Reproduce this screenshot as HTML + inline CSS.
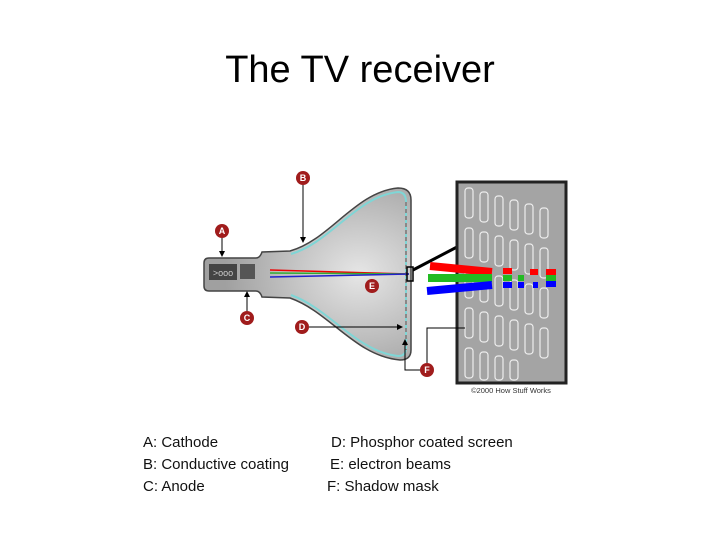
<!DOCTYPE html>
<html><head><meta charset="utf-8"><style>
body{margin:0;background:#fff;width:720px;height:540px;overflow:hidden;font-family:"Liberation Sans",sans-serif}
</style></head><body>
<svg width="720" height="540" xmlns="http://www.w3.org/2000/svg">
<defs>
<radialGradient id="g" cx="0.75" cy="0.5" r="0.65">
<stop offset="0" stop-color="#e6e6e6"/><stop offset="1" stop-color="#a0a0a0"/>
</radialGradient>
<marker id="ar" markerWidth="6" markerHeight="6" refX="5" refY="3" orient="auto"><path d="M0,0 L6,3 L0,6Z" fill="#000"/></marker>
</defs>
<text x="360" y="82" font-size="38" text-anchor="middle" fill="#000" font-family="Liberation Sans,sans-serif">The TV receiver</text>
<!-- tube -->
<path d="M209,258 L256,258 Q260,258 262,252 L290,251 C330,240 355,192 398,188 Q411,188 411,200 L411,350 Q411,360 400,360 C355,356 330,312 290,298 L262,297 Q260,291 256,291 L209,291 Q204,291 204,286 L204,263 Q204,258 209,258Z" fill="url(#g)" stroke="#444" stroke-width="1.5"/>
<path d="M291,254 C330,243 357,196 398,192 Q406,192 406,202 L406,348 Q406,356 398,356 C357,352 330,309 291,295" fill="none" stroke="#7fd6d6" stroke-width="2"/>
<path d="M406,202 L406,350" stroke="#888" stroke-width="2" stroke-dasharray="4,3"/>
<rect x="209" y="264" width="28" height="16" fill="#444"/>
<text x="223" y="276" font-size="9" fill="#ccc" text-anchor="middle">&gt;ooo</text>
<rect x="240" y="264" width="15" height="15" fill="#555"/>
<!-- beams -->
<line x1="270" y1="270" x2="409" y2="274" stroke="#e00" stroke-width="1.5"/>
<line x1="270" y1="273" x2="409" y2="274" stroke="#3a3" stroke-width="1.5"/>
<line x1="270" y1="277" x2="409" y2="274" stroke="#22c" stroke-width="1.5"/>
<rect x="407" y="267" width="6" height="14" fill="none" stroke="#000" stroke-width="1.5"/>
<line x1="413" y1="270" x2="457" y2="247" stroke="#000" stroke-width="3"/>
<!-- panel -->
<rect x="457" y="182" width="109" height="201" fill="#a4a4a4" stroke="#222" stroke-width="3"/>
<g fill="none" stroke="#eee" stroke-width="1.2">
<rect x="465" y="188" width="8" height="30" rx="3"/><rect x="480" y="192" width="8" height="30" rx="3"/><rect x="495" y="196" width="8" height="30" rx="3"/><rect x="510" y="200" width="8" height="30" rx="3"/><rect x="525" y="204" width="8" height="30" rx="3"/><rect x="540" y="208" width="8" height="30" rx="3"/>
<rect x="465" y="228" width="8" height="30" rx="3"/><rect x="480" y="232" width="8" height="30" rx="3"/><rect x="495" y="236" width="8" height="30" rx="3"/><rect x="510" y="240" width="8" height="30" rx="3"/><rect x="525" y="244" width="8" height="30" rx="3"/><rect x="540" y="248" width="8" height="30" rx="3"/>
<rect x="465" y="268" width="8" height="30" rx="3"/><rect x="480" y="272" width="8" height="30" rx="3"/><rect x="495" y="276" width="8" height="30" rx="3"/><rect x="510" y="280" width="8" height="30" rx="3"/><rect x="525" y="284" width="8" height="30" rx="3"/><rect x="540" y="288" width="8" height="30" rx="3"/>
<rect x="465" y="308" width="8" height="30" rx="3"/><rect x="480" y="312" width="8" height="30" rx="3"/><rect x="495" y="316" width="8" height="30" rx="3"/><rect x="510" y="320" width="8" height="30" rx="3"/><rect x="525" y="324" width="8" height="30" rx="3"/><rect x="540" y="328" width="8" height="30" rx="3"/>
<rect x="465" y="348" width="8" height="30" rx="3"/><rect x="480" y="352" width="8" height="28" rx="3"/><rect x="495" y="356" width="8" height="24" rx="3"/><rect x="510" y="360" width="8" height="20" rx="3"/>
</g>
<line x1="430" y1="266" x2="492" y2="272" stroke="#f00" stroke-width="8"/>
<line x1="428" y1="278" x2="492" y2="278" stroke="#2b2" stroke-width="8"/>
<line x1="427" y1="291" x2="492" y2="285" stroke="#00f" stroke-width="8"/>
<g stroke-width="6"><line x1="503" y1="271" x2="512" y2="271" stroke="#f00"/><line x1="530" y1="272" x2="538" y2="272" stroke="#f00"/><line x1="546" y1="272" x2="556" y2="272" stroke="#f00"/>
<line x1="503" y1="278" x2="512" y2="278" stroke="#2b2"/><line x1="518" y1="278" x2="524" y2="278" stroke="#2b2"/><line x1="546" y1="278" x2="556" y2="278" stroke="#2b2"/>
<line x1="503" y1="285" x2="512" y2="285" stroke="#00f"/><line x1="518" y1="285" x2="524" y2="285" stroke="#00f"/><line x1="533" y1="285" x2="538" y2="285" stroke="#00f"/><line x1="546" y1="284" x2="556" y2="284" stroke="#00f"/></g>
<text x="511" y="393" font-size="7.5" text-anchor="middle" fill="#333">©2000 How Stuff Works</text>
<!-- leaders -->
<g stroke="#000" stroke-width="1" fill="none">
<line x1="222" y1="238" x2="222" y2="256" marker-end="url(#ar)"/>
<line x1="303" y1="185" x2="303" y2="242" marker-end="url(#ar)"/>
<line x1="247" y1="311" x2="247" y2="292" marker-end="url(#ar)"/>
<line x1="309" y1="327" x2="402" y2="327" marker-end="url(#ar)"/>
<polyline points="420,370 405,370 405,340" marker-end="url(#ar)"/>
<polyline points="427,363 427,328 465,328"/>
</g>
<g fill="#a01c1c">
<circle cx="222" cy="231" r="7"/><circle cx="303" cy="178" r="7"/><circle cx="247" cy="318" r="7"/>
<circle cx="302" cy="327" r="7"/><circle cx="372" cy="286" r="7"/><circle cx="427" cy="370" r="7"/>
</g>
<g fill="#fff" font-size="9" font-weight="bold" text-anchor="middle">
<text x="222" y="234">A</text><text x="303" y="181">B</text><text x="247" y="321">C</text>
<text x="302" y="330">D</text><text x="372" y="289">E</text><text x="427" y="373">F</text>
</g>
<g font-size="15" fill="#111" font-family="Liberation Sans,sans-serif">
<text x="143" y="447">A: Cathode</text>
<text x="143" y="469">B: Conductive coating</text>
<text x="143" y="491">C: Anode</text>
<text x="331" y="447">D: Phosphor coated screen</text>
<text x="330" y="469">E:  electron beams</text>
<text x="327" y="491">F:  Shadow mask</text>
</g>
</svg>
</body></html>
